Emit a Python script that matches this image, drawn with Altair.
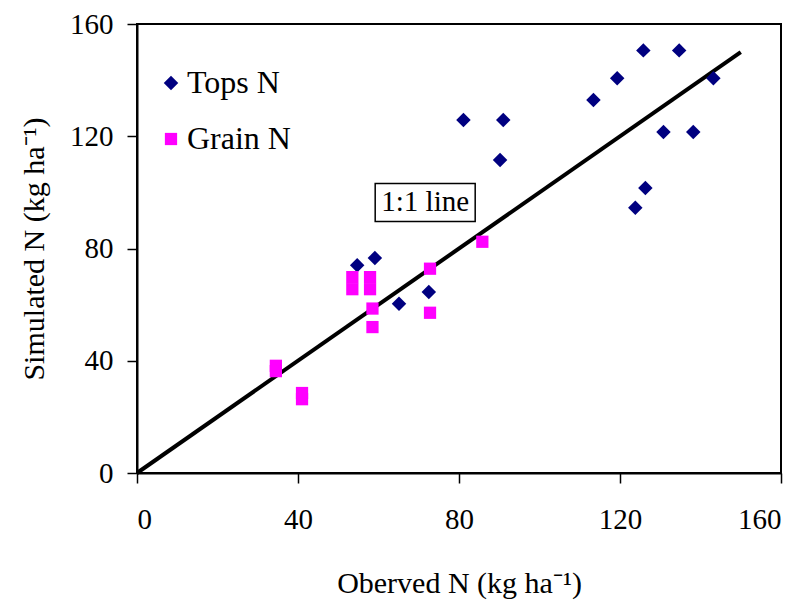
import altair as alt
import pandas as pd

# Observed vs simulated nitrogen (kg/ha)
tops_obs = [54.7, 59.1, 65.1, 72.5, 81.1, 90.2, 91.0, 113.4, 119.3, 125.8,
            123.8, 126.3, 130.8, 134.7, 138.2, 143.2]
tops_sim = [74.0, 76.6, 60.3, 64.5, 125.8, 111.5, 125.8, 132.9, 140.7, 150.6,
            94.5, 101.6, 121.5, 150.6, 121.5, 140.7]

grain_obs = [34.5, 34.5, 41.0, 41.0, 53.5, 53.5, 57.9, 57.9, 58.5, 58.5,
             72.8, 72.8, 85.8]
grain_sim = [36.3, 38.2, 26.3, 28.5, 65.5, 69.8, 65.5, 69.8, 58.6, 52.0,
             72.8, 57.1, 82.4]

series_names = ["Tops N", "Grain N"]
one_to_one = [0, 150]
line_label = "1:1 line"
label_pos = [71.6, 96.4]
tick_values = [0, 40, 80, 120, 160]

FONT = "Liberation Serif"

points = pd.DataFrame({
    "obs": tops_obs + grain_obs,
    "sim": tops_sim + grain_sim,
    "series": [series_names[0]] * len(tops_obs) + [series_names[1]] * len(grain_obs),
})
line_df = pd.DataFrame({"obs": one_to_one, "sim": one_to_one})
label_df = pd.DataFrame({"obs": [label_pos[0]], "sim": [label_pos[1]], "text": [line_label]})

x_scale = alt.Scale(domain=[0, 160], nice=False)
y_scale = alt.Scale(domain=[0, 160], nice=False)

axis_style = dict(
    grid=False, tickSize=10, tickColor="black", tickWidth=1.5,
    domainColor="black", domainWidth=2,
    labelFont=FONT, labelFontSize=29, labelColor="black",
    titleFont=FONT, titleFontSize=30, titleFontWeight="normal", titleColor="black",
)
x_axis = alt.Axis(values=tick_values, title="Oberved N (kg ha\u207b\u00b9)",
                  labelPadding=22, titlePadding=34, **axis_style)
y_axis = alt.Axis(values=tick_values, title="Simulated N (kg ha\u207b\u00b9)",
                  labelPadding=14, titlePadding=20, **axis_style)


def series_legend():
    return alt.Legend(title=None, orient="none", legendX=18, legendY=43,
                      labelFontSize=32, labelFont=FONT, labelOffset=0,
                      rowPadding=24, padding=0, symbolStrokeWidth=0,
                      labelColor="black")


scatter = alt.Chart(points).mark_point(filled=True, opacity=1).encode(
    x=alt.X("obs:Q", scale=x_scale, axis=x_axis),
    y=alt.Y("sim:Q", scale=y_scale, axis=y_axis),
    shape=alt.Shape("series:N", scale=alt.Scale(domain=series_names, range=["diamond", "square"]),
                    legend=series_legend()),
    color=alt.Color("series:N", scale=alt.Scale(domain=series_names, range=["#000080", "#FF00FF"]),
                    legend=series_legend()),
    size=alt.Size("series:N", scale=alt.Scale(domain=series_names, range=[210, 150]),
                  legend=series_legend()),
)

line = alt.Chart(line_df).mark_line(color="black", strokeWidth=4).encode(
    x=alt.X("obs:Q", scale=x_scale),
    y=alt.Y("sim:Q", scale=y_scale),
)

label_box = alt.Chart(label_df).mark_point(
    shape="M-1,-0.38L1,-0.38L1,0.38L-1,0.38Z", size=10000, filled=False,
    stroke="black", strokeWidth=1.5, opacity=1,
).encode(
    x=alt.X("obs:Q", scale=x_scale),
    y=alt.Y("sim:Q", scale=y_scale),
)

label_text = alt.Chart(label_df).mark_text(font=FONT, fontSize=29, color="black").encode(
    x=alt.X("obs:Q", scale=x_scale),
    y=alt.Y("sim:Q", scale=y_scale),
    text="text:N",
)

chart = alt.layer(line, scatter, label_box, label_text).properties(
    width=644, height=449,
    background="white",
    autosize=alt.AutoSizeParams(type="none"),
    padding={"left": 137, "top": 24, "right": 25, "bottom": 135},
).configure_view(
    stroke="black", strokeWidth=2,
)

chart.save("out.html", embed_options={"renderer": "svg", "actions": False})
